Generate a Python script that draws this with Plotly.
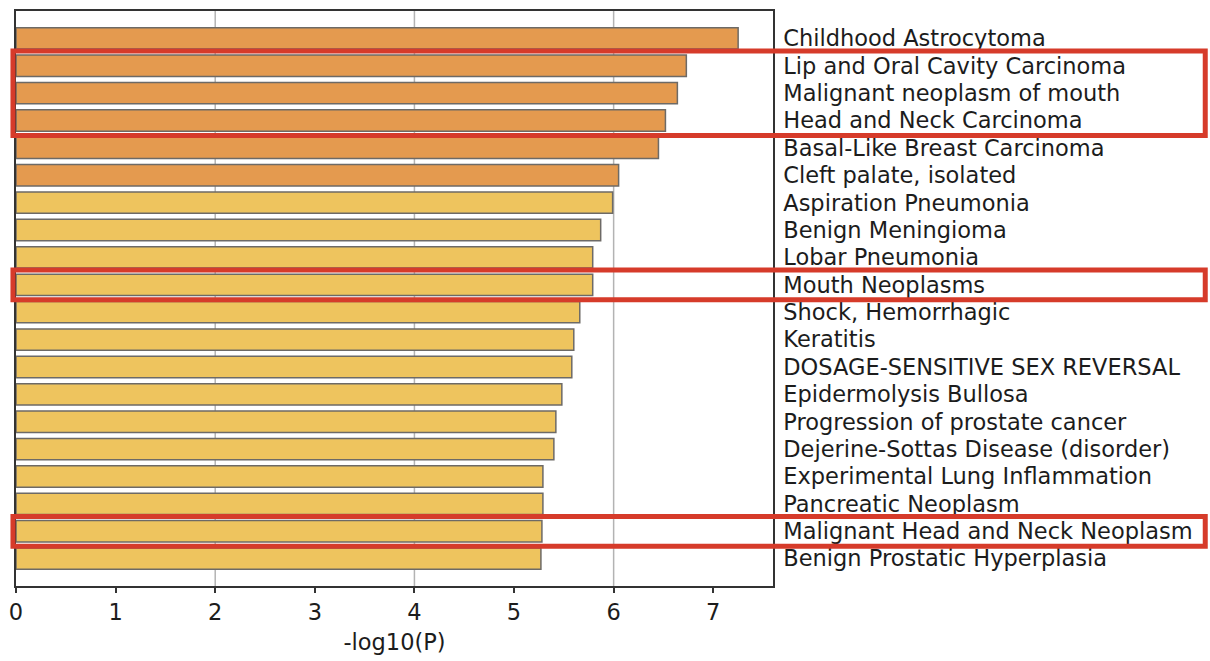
import plotly.graph_objects as go

# Enriched disease terms and their significance (-log10 P)
terms = [
    "Childhood Astrocytoma",
    "Lip and Oral Cavity Carcinoma",
    "Malignant neoplasm of mouth",
    "Head and Neck Carcinoma",
    "Basal-Like Breast Carcinoma",
    "Cleft palate, isolated",
    "Aspiration Pneumonia",
    "Benign Meningioma",
    "Lobar Pneumonia",
    "Mouth Neoplasms",
    "Shock, Hemorrhagic",
    "Keratitis",
    "DOSAGE-SENSITIVE SEX REVERSAL",
    "Epidermolysis Bullosa",
    "Progression of prostate cancer",
    "Dejerine-Sottas Disease (disorder)",
    "Experimental Lung Inflammation",
    "Pancreatic Neoplasm",
    "Malignant Head and Neck Neoplasm",
    "Benign Prostatic Hyperplasia",
]
neg_log_p = [7.25, 6.73, 6.64, 6.52, 6.45, 6.05, 5.99, 5.87, 5.79, 5.79,
             5.66, 5.60, 5.58, 5.48, 5.42, 5.40, 5.29, 5.29, 5.28, 5.27]

# Terms boxed as groups of consecutive rows
highlight_groups = [
    ["Lip and Oral Cavity Carcinoma", "Malignant neoplasm of mouth", "Head and Neck Carcinoma"],
    ["Mouth Neoplasms"],
    ["Malignant Head and Neck Neoplasm"],
]

x_ticks = [0, 1, 2, 3, 4, 5, 6, 7]
grid_x = [2, 4, 6]

ORANGE = "#E49A4F"
YELLOW = "#EEC45E"
bar_colors = [ORANGE if v >= 6 else YELLOW for v in neg_log_p]

FONT = "DejaVu Sans"
FSIZE = 22.5
TXT = "#1c1c1c"

fig = go.Figure()
fig.add_trace(go.Bar(
    x=neg_log_p,
    y=terms,
    orientation="h",
    marker=dict(color=bar_colors, line=dict(color="#6d6a66", width=1.5)),
    width=0.78,
    hoverinfo="x+y",
))

shapes = []
# vertical grid lines behind the bars
for gx in grid_x:
    shapes.append(dict(type="line", xref="x", yref="paper", x0=gx, x1=gx, y0=0, y1=1,
                       line=dict(color="#b3b3b3", width=1.5), layer="below"))

# red outline boxes around highlighted terms
for group in highlight_groups:
    idx = [terms.index(t) for t in group]
    shapes.append(dict(type="rect", xref="paper", yref="y",
                       x0=-0.004, x1=1.571, y0=min(idx) - 0.54, y1=max(idx) + 0.55,
                       line=dict(color="#D63B2A", width=5), fillcolor="rgba(0,0,0,0)",
                       layer="above"))

fig.update_layout(
    width=1210, height=661,
    margin=dict(l=15, r=437, t=9, b=75),
    paper_bgcolor="white", plot_bgcolor="white",
    showlegend=False,
    shapes=shapes,
    font=dict(family=FONT, size=FSIZE, color=TXT),
    xaxis=dict(
        range=[0, 7.6], tickvals=x_ticks, showgrid=False, zeroline=False,
        ticks="outside", ticklen=5, tickwidth=1.5, tickcolor="#333333",
        showline=True, mirror=True, linecolor="#333333", linewidth=1.5,
        tickfont=dict(family=FONT, size=FSIZE, color=TXT),
        title=dict(text="-log10(P)", standoff=10, font=dict(family=FONT, size=FSIZE, color=TXT)),
    ),
    yaxis=dict(
        type="category", categoryorder="array", categoryarray=terms,
        range=[20, -1], side="right", ticks="", showgrid=False, zeroline=False,
        showline=True, mirror=True, linecolor="#333333", linewidth=1.5,
        tickfont=dict(family=FONT, size=FSIZE, color=TXT),
        ticklabelstandoff=4,
    ),
)

fig.write_html("out.html")
